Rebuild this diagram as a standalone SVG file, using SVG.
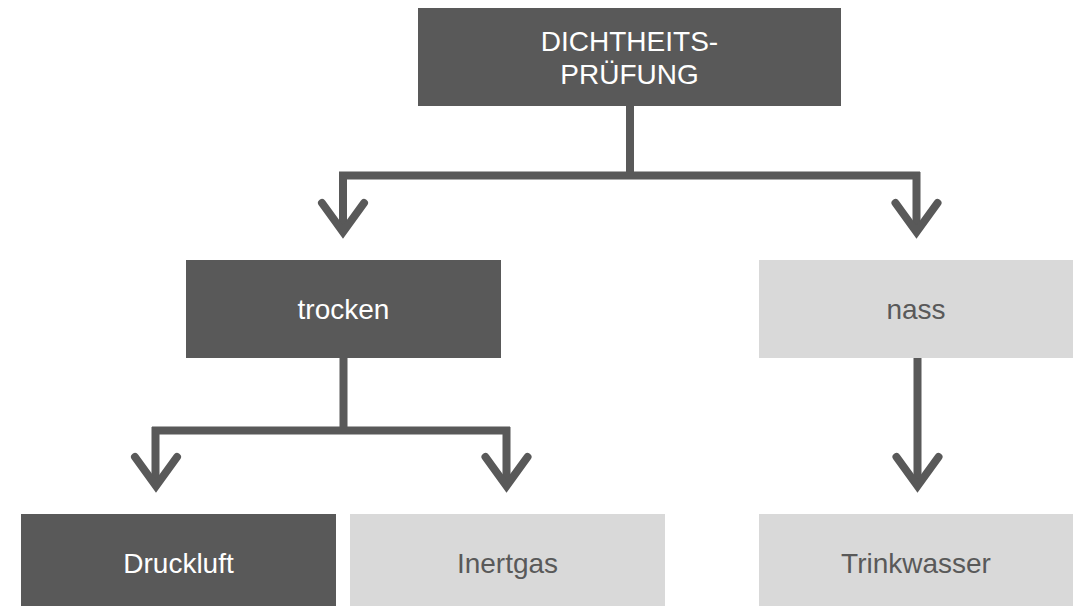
<svg xmlns="http://www.w3.org/2000/svg" width="1073" height="606" viewBox="0 0 1073 606">
  <style>
    .dark { fill: #595959; }
    .light { fill: #d9d9d9; }
    .t { font-family: "Liberation Sans", Arial, sans-serif; font-size: 28px; text-anchor: middle; }
    .tw { fill: #ffffff; }
    .tg { fill: #595959; }
    .ln { fill: none; stroke: #595959; stroke-width: 8; stroke-linejoin: miter; }
    .ah { fill: none; stroke: #595959; stroke-width: 8; stroke-linecap: round; stroke-linejoin: miter; }
  </style>
  <rect width="1073" height="606" fill="#ffffff"/>
  <g id="connectors">
    <path class="ln" d="M630 106 V175.5 M339 175.5 H920 M343 172 V230 M916.5 172 V230"/>
    <path class="ah" d="M322 203 L343 232 L364 203 M895.5 203 L916.5 232 L937.5 203"/>
    <path class="ln" d="M343.5 358 V430.5 M152 430.5 H510 M155.5 427 V484 M506.5 427 V484"/>
    <path class="ah" d="M135 457 L156 486 L177 457 M485.5 457 L506.5 486 L527.5 457"/>
    <path class="ln" d="M917.5 358 V484"/>
    <path class="ah" d="M896.5 457 L917.5 486 L938.5 457"/>
  </g>
  <g id="node-dichtheitspruefung">
    <rect class="dark" x="418" y="8" width="423" height="98"/>
    <text class="t tw" x="629.5" y="51">DICHTHEITS-</text>
    <text class="t tw" x="629.5" y="84">PRÜFUNG</text>
  </g>
  <g id="node-trocken">
    <rect class="dark" x="186" y="260" width="315" height="98"/>
    <text class="t tw" x="343.5" y="319">trocken</text>
  </g>
  <g id="node-nass">
    <rect class="light" x="759" y="260" width="314" height="98"/>
    <text class="t tg" x="916" y="319">nass</text>
  </g>
  <g id="node-druckluft">
    <rect class="dark" x="21" y="514" width="315" height="92"/>
    <text class="t tw" x="178.5" y="573">Druckluft</text>
  </g>
  <g id="node-inertgas">
    <rect class="light" x="350" y="514" width="315" height="92"/>
    <text class="t tg" x="507.5" y="573">Inertgas</text>
  </g>
  <g id="node-trinkwasser">
    <rect class="light" x="759" y="514" width="314" height="92"/>
    <text class="t tg" x="916" y="573">Trinkwasser</text>
  </g>
</svg>
